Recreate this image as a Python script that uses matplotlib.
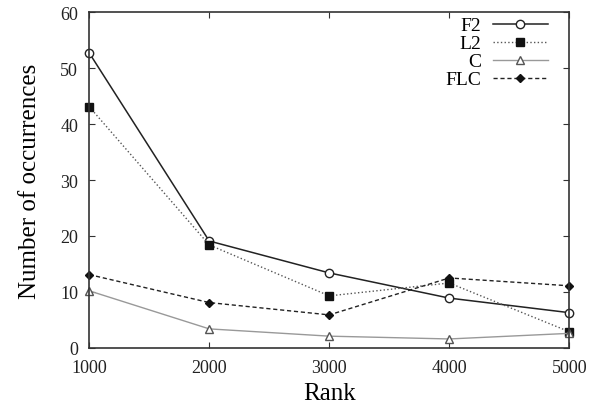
import matplotlib
matplotlib.use('Agg')
import matplotlib.pyplot as plt

plt.rcParams['font.family'] = 'Liberation Serif'

# Data
rank = [1000, 2000, 3000, 4000, 5000]
f2 = [52.7, 19.1, 13.4, 8.9, 6.3]
l2 = [43.1, 18.4, 9.3, 11.6, 2.9]
c = [10.2, 3.4, 2.1, 1.6, 2.6]
flc = [13.1, 8.1, 5.9, 12.5, 11.1]

fig, ax = plt.subplots(figsize=(6.03, 4.10), dpi=100)

ax.plot(rank, f2, color='#222222', lw=1.1, marker='o', ms=6, mfc='white', mec='#222222',
        label='F2', clip_on=False)
ax.plot(rank, l2, color='#555555', lw=1.0, ls=':', marker='s', ms=6, mfc='#111111', mec='#111111',
        label='L2', clip_on=False)
ax.plot(rank, c, color='#999999', lw=1.0, marker='^', ms=6, mfc='white', mec='#555555',
        label='C', clip_on=False)
ax.plot(rank, flc, color='#222222', lw=1.0, ls=(0, (3, 2)), marker='D', ms=4.5, mfc='#111111', mec='#111111',
        label='FLC', clip_on=False)

ax.set_xlim(1000, 5000)
ax.set_ylim(0, 60)
ax.set_xticks(rank)
ax.set_yticks(range(0, 61, 10))
ax.tick_params(direction='in', top=True, right=True, labelsize=13, length=4, pad=8, colors='#333333')
ax.tick_params(labelcolor='#222222')
for s in ax.spines.values():
    s.set_linewidth(1.2)
    s.set_color('#333333')

ax.set_xlabel('Rank', fontsize=18, labelpad=4)
ax.set_ylabel('Number of occurrences', fontsize=18, labelpad=14)

ax.legend(loc='upper right', bbox_to_anchor=(0.975, 1.015), frameon=False, markerfirst=False,
          fontsize=14, handlelength=2.8, labelspacing=0.02, borderaxespad=0.2,
          handletextpad=0.6, borderpad=0.3)

plt.subplots_adjust(left=0.148, right=0.944, top=0.968, bottom=0.149)
plt.savefig('out.png', dpi=100)
